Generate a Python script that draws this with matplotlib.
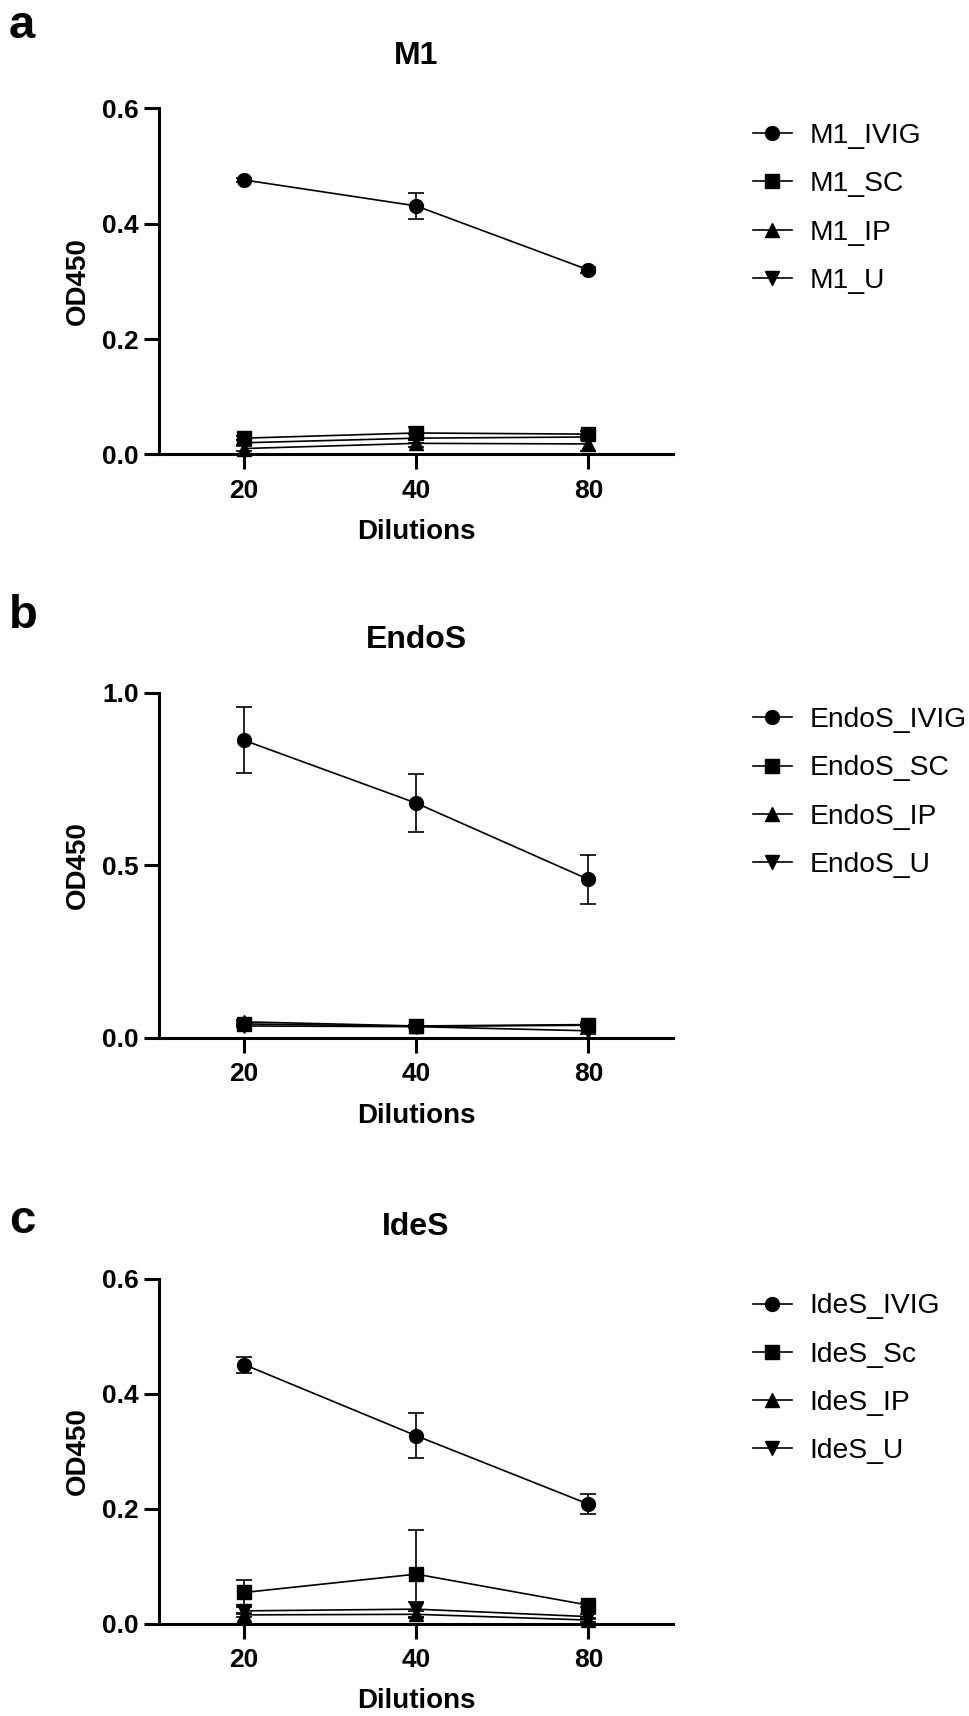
import numpy as np
import matplotlib
matplotlib.use("Agg")
import matplotlib.pyplot as plt
from matplotlib.ticker import FixedLocator, FixedFormatter, NullLocator

plt.rcParams["font.family"] = ["Liberation Sans", "DejaVu Sans"]

dilutions = [20, 40, 80]
markers = ["o", "s", "^", "v"]

# panel a: M1
m1_labels = ["M1_IVIG", "M1_SC", "M1_IP", "M1_U"]
m1_means = [[0.476, 0.431, 0.320],
            [0.028, 0.037, 0.035],
            [0.010, 0.019, 0.018],
            [0.020, 0.028, 0.030]]
m1_errs = [[0.004, 0.022, 0.005],
           [0.003, 0.010, 0.006],
           [0.004, 0.006, 0.013],
           [0.004, 0.008, 0.006]]

# panel b: EndoS
endos_labels = ["EndoS_IVIG", "EndoS_SC", "EndoS_IP", "EndoS_U"]
endos_means = [[0.862, 0.680, 0.459],
               [0.040, 0.033, 0.036],
               [0.046, 0.034, 0.038],
               [0.034, 0.032, 0.020]]
endos_errs = [[0.096, 0.084, 0.071],
              [0.005, 0.003, 0.005],
              [0.005, 0.003, 0.008],
              [0.004, 0.003, 0.010]]

# panel c: IdeS
ides_labels = ["IdeS_IVIG", "IdeS_Sc", "IdeS_IP", "IdeS_U"]
ides_means = [[0.451, 0.327, 0.208],
              [0.054, 0.086, 0.032],
              [0.015, 0.016, 0.006],
              [0.022, 0.025, 0.012]]
ides_errs = [[0.014, 0.039, 0.017],
             [0.022, 0.076, 0.004],
             [0.004, 0.005, 0.003],
             [0.006, 0.013, 0.004]]

W, H = 969, 1716
fig = plt.figure(figsize=(W / 100, H / 100), dpi=100)


def panel(top_px, bottom_px, title, labels, means, errs, ymax, yticks, yticklabels):
    ax = fig.add_axes([159 / W, 1 - bottom_px / H, (673 - 159) / W, (bottom_px - top_px) / H])
    handles = []
    for lab, m, e, mk in zip(labels, means, errs, markers):
        c = ax.errorbar(dilutions, m, yerr=e, color="black", marker=mk, markersize=10,
                        lw=1.2, elinewidth=1.2, capsize=6, capthick=1.2, label=lab,
                        clip_on=False)
        handles.append(c.lines[0])
    ax.set_xscale("log", base=2)
    ax.set_xlim(14.2, 112.5)
    ax.xaxis.set_major_locator(FixedLocator(dilutions))
    ax.xaxis.set_major_formatter(FixedFormatter([str(d) for d in dilutions]))
    ax.xaxis.set_minor_locator(NullLocator())
    ax.set_ylim(0, ymax)
    ax.set_yticks(yticks)
    ax.set_yticklabels(yticklabels)
    for s in ["top", "right"]:
        ax.spines[s].set_visible(False)
    for s in ["left", "bottom"]:
        ax.spines[s].set_linewidth(2.2)
    ax.tick_params(width=2.2, length=10.5, labelsize=19)
    ax.tick_params(axis="x", pad=7)
    ax.tick_params(axis="y", pad=4)
    for t in ax.get_xticklabels() + ax.get_yticklabels():
        t.set_fontweight("bold")
    ax.set_xlabel("Dilutions", fontsize=20, fontweight="bold", labelpad=12)
    ax.set_ylabel("OD450", fontsize=20, fontweight="bold", labelpad=8)
    ax.set_title(title, fontsize=23, fontweight="bold", pad=32)
    ax.legend(handles, labels, loc="upper left", bbox_to_anchor=(1.156, 0.958),
              frameon=False, fontsize=20.3, handlelength=1.37, handletextpad=0.63,
              labelspacing=0.79, borderpad=0, borderaxespad=0)
    return ax


panel(108.5, 454.3, "M1", m1_labels, m1_means, m1_errs, 0.6,
      [0, 0.2, 0.4, 0.6], ["0.0", "0.2", "0.4", "0.6"])
panel(692.7, 1037.7, "EndoS", endos_labels, endos_means, endos_errs, 1.0,
      [0, 0.5, 1.0], ["0.0", "0.5", "1.0"])
panel(1279, 1623.5, "IdeS", ides_labels, ides_means, ides_errs, 0.6,
      [0, 0.2, 0.4, 0.6], ["0.0", "0.2", "0.4", "0.6"])

for letter, ypx in [("a", 38), ("b", 628), ("c", 1233)]:
    fig.text(9 / W, 1 - ypx / H, letter, fontsize=34, fontweight="bold",
             ha="left", va="baseline")

fig.savefig("out.png", dpi=100)
